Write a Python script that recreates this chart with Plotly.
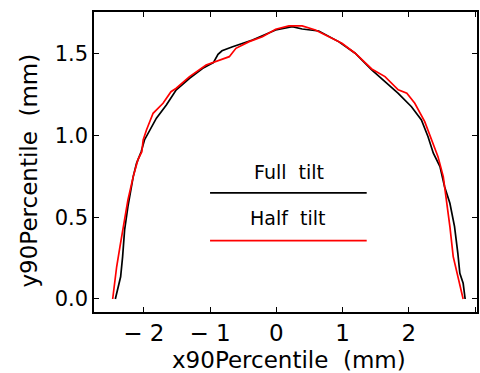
import plotly.graph_objects as go

# ---- data ----
full_x = [-2.43, -2.35, -2.32, -2.29, -2.24, -2.20, -2.16, -2.11, -2.04, -1.99,
          -1.91, -1.81, -1.66, -1.51, -1.31, -1.11, -0.95, -0.88, -0.82, -0.66, -0.36,
          -0.01, 0.24, 0.39, 0.64, 0.94, 1.19, 1.44, 1.64, 1.84, 2.04,
          2.19, 2.29, 2.37, 2.47, 2.54, 2.62, 2.69, 2.74, 2.77, 2.82, 2.85]
full_y = [0.0, 0.136, 0.259, 0.422, 0.564, 0.666, 0.748, 0.829, 0.900, 0.972,
          1.033, 1.105, 1.186, 1.278, 1.349, 1.410, 1.445, 1.495, 1.517, 1.542, 1.583,
          1.644, 1.664, 1.650, 1.638, 1.573, 1.502, 1.400, 1.328, 1.257, 1.175,
          1.094, 0.992, 0.891, 0.809, 0.686, 0.585, 0.442, 0.279, 0.157, 0.096, 0.0]

half_x = [-2.47, -2.41, -2.36, -2.29, -2.24, -2.16, -2.09, -2.03, -2.01, -1.96,
          -1.86, -1.71, -1.59, -1.51, -1.31, -1.06, -0.86, -0.71, -0.61, -0.41,
          -0.21, -0.01, 0.19, 0.39, 0.59, 0.79, 0.99, 1.19, 1.44, 1.64,
          1.84, 1.97, 2.09, 2.24, 2.34, 2.44, 2.52, 2.57, 2.62, 2.67, 2.74, 2.82]
half_y = [0.0, 0.197, 0.320, 0.483, 0.605, 0.748, 0.850, 0.900, 0.972, 1.033,
          1.135, 1.196, 1.267, 1.288, 1.359, 1.430, 1.461, 1.481, 1.532, 1.573,
          1.603, 1.649, 1.669, 1.669, 1.644, 1.603, 1.563, 1.502, 1.406, 1.359,
          1.278, 1.257, 1.196, 1.084, 0.972, 0.870, 0.748, 0.605, 0.442, 0.259,
          0.136, 0.0]

series_names = ["Full tilt", "Half tilt"]
x_tickvals = [-2, -1, 0, 1, 2, 3]
x_ticktext = ["\u2212 2", "\u2212 1", "0", "1", "2", "3"]
y_tickvals = [0.0, 0.5, 1.0, 1.5]
y_ticktext = ["0.0", "0.5", "1.0", "1.5"]

FONT = "DejaVu Sans"

fig = go.Figure()
fig.add_trace(go.Scatter(x=full_x, y=full_y, mode="lines", name=series_names[0],
                         line=dict(color="#000000", width=1.7)))
fig.add_trace(go.Scatter(x=half_x, y=half_y, mode="lines", name=series_names[1],
                         line=dict(color="#ff0000", width=1.7)))

# legend drawn as in the reference: text above a sample line
fig.add_shape(type="line", xref="paper", yref="paper", x0=0.303, x1=0.712,
              y0=0.397, y1=0.397, line=dict(color="#000000", width=1.6))
fig.add_shape(type="line", xref="paper", yref="paper", x0=0.303, x1=0.712,
              y0=0.238, y1=0.238, line=dict(color="#ff0000", width=1.6))
fig.add_annotation(xref="paper", yref="paper", x=0.509, y=0.467,
                   text=series_names[0].replace(" ", "  "), showarrow=False,
                   font=dict(family=FONT, size=19, color="#000000"),
                   xanchor="center", yanchor="middle")
fig.add_annotation(xref="paper", yref="paper", x=0.506, y=0.313,
                   text=series_names[1].replace(" ", "  "), showarrow=False,
                   font=dict(family=FONT, size=19, color="#000000"),
                   xanchor="center", yanchor="middle")

# axis titles
fig.add_annotation(xref="paper", yref="paper", x=0.51, y=-0.16,
                   text="x90Percentile  (mm)", showarrow=False,
                   font=dict(family=FONT, size=23, color="#000000"),
                   xanchor="center", yanchor="middle")
fig.add_annotation(xref="paper", yref="paper", x=-0.171, y=0.47,
                   text="y90Percentile  (mm)", showarrow=False, textangle=-90,
                   font=dict(family=FONT, size=23, color="#000000"),
                   xanchor="center", yanchor="middle")

fig.update_xaxes(range=[-2.752, 3.029], tickvals=x_tickvals, ticktext=x_ticktext,
                 ticks="inside", ticklen=5, tickwidth=1.2, tickcolor="#000",
                 showline=True, linecolor="#000", linewidth=1.5, mirror="ticks",
                 showgrid=False, zeroline=False,
                 tickfont=dict(family=FONT, size=23, color="#000"))
fig.update_yaxes(range=[-0.0795, 1.754], tickvals=y_tickvals, ticktext=y_ticktext,
                 ticks="inside", ticklen=5, tickwidth=1.2, tickcolor="#000",
                 showline=True, linecolor="#000", linewidth=1.5, mirror="ticks",
                 showgrid=False, zeroline=False, ticklabelstandoff=0,
                 tickfont=dict(family=FONT, size=21, color="#000"))

fig.update_layout(width=480, height=373, showlegend=False,
                  margin=dict(l=94, r=1, t=12, b=61),
                  paper_bgcolor="#ffffff", plot_bgcolor="#ffffff",
                  font=dict(family=FONT, color="#000"))

fig.write_html("out.html")
